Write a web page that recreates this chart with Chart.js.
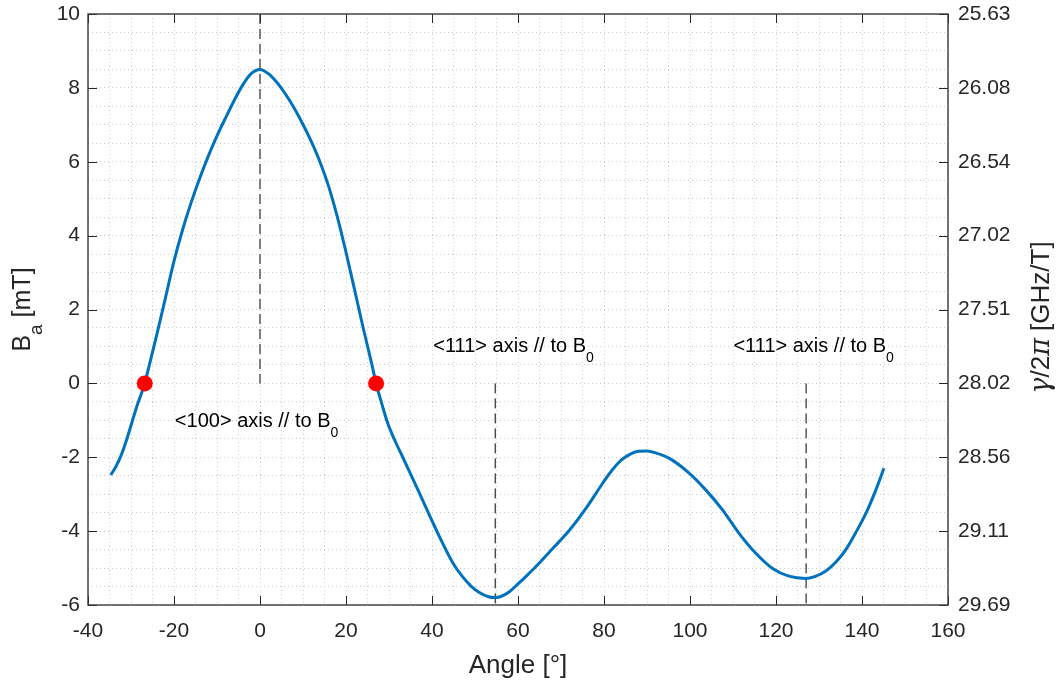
<!DOCTYPE html>
<html>
<head>
<meta charset="utf-8">
<script src="https://cdn.jsdelivr.net/npm/chart.js@4.4.0/dist/chart.umd.min.js"></script>
<style>
    html, body { margin: 0; padding: 0; background: #fff; }
</style>
</head>
<body>
<canvas id="field_chart" width="1058" height="684"></canvas>
<script>
    // curve: angle [deg] vs B_a [mT]
    var curve_angle = [-34.7, -33.5, -32.3, -31.0, -29.9, -28.4, -26.8, -26.0, -24.0, -22.0, -20.0, -18.0, -16.0,
        -14.0, -12.0, -10.0, -8.0, -6.0, -4.0, -2.0, 0.0, 2.0, 4.0, 6.0, 8.0, 10.0, 12.0, 14.0, 16.0, 18.0, 20.0,
        22.0, 24.0, 26.0, 27.0, 28.4, 29.7, 31.5, 33.2, 35.0, 37.1, 41.0, 45.0, 47.0, 49.0, 51.0, 53.0, 54.5,
        56.0, 58.0, 60.0, 62.0, 64.0, 68.0, 72.0, 76.0, 80.0, 82.0, 84.0, 86.0, 88.0, 90.0, 92.0, 95.2, 99.8,
        103.7, 107.6, 111.4, 115.3, 119.2, 123.0, 126.9, 129.0, 131.6, 134.0, 136.2, 138.5, 140.9, 143.0, 145.1];
    var curve_field = [-2.48, -2.25, -1.95, -1.52, -1.10, -0.54, 0, 0.37, 1.32, 2.31, 3.31, 4.16, 4.90,
        5.56, 6.16, 6.70, 7.19, 7.66, 8.08, 8.39, 8.50, 8.38, 8.14, 7.82, 7.44, 7.01, 6.53, 5.98, 5.32, 4.50, 3.55,
        2.53, 1.50, 0.52, 0, -0.58, -1.08, -1.58, -2.00, -2.45, -2.98, -3.97, -4.89, -5.22, -5.48, -5.66, -5.77, -5.80,
        -5.77, -5.64, -5.43, -5.21, -4.98, -4.48, -3.97, -3.35, -2.65, -2.33, -2.08, -1.92, -1.84, -1.83, -1.88, -2.03, -2.43,
        -2.89, -3.43, -4.06, -4.60, -5.01, -5.22, -5.28, -5.23, -5.08, -4.83, -4.51, -4.05, -3.52, -2.95, -2.30];

    // zero crossings (red dots)
    var zero_angle = [-26.8, 27.0];
    var zero_field = [0, 0];

    // crystal axis markers (dashed verticals)
    var marker_angle = [0, 54.7, 127.0];
    var marker_from = [10, 0, 0];
    var marker_to = [0, -6, -6];

    // annotations
    var note_text = ['<100> axis // to B', '<111> axis // to B', '<111> axis // to B'];
    var note_angle = [-19.8, 40.3, 110.1];
    var note_field = [-1.17, 0.84, 0.84];

    // ticks
    var x_ticks = [-40, -20, 0, 20, 40, 60, 80, 100, 120, 140, 160];
    var y_ticks = [-6, -4, -2, 0, 2, 4, 6, 8, 10];
    var gyro_labels = ['29.69', '29.11', '28.56', '28.02', '27.51', '27.02', '26.54', '26.08', '25.63'];

    var FONT = '"Liberation Sans", Arial, Helvetica, sans-serif';
    var TXT = '#262626';

    function pts(xs, ys) {
        return xs.map(function (x, i) { return { x: x, y: ys[i] }; });
    }

    var marker_sets = marker_angle.map(function (a, i) {
        return {
            data: [{ x: a, y: marker_from[i] }, { x: a, y: marker_to[i] }],
            borderColor: i === 0 ? '#6a6a6a' : '#000000',
            borderWidth: i === 0 ? 1.7 : 1,
            borderDash: [10, 5],
            pointRadius: 0,
            order: 3
        };
    });

    // draws a list of [text, font, dy] pieces one after the other
    function draw_pieces(ctx, pieces, x, y, align) {
        var total = 0;
        pieces.forEach(function (p) { ctx.font = p[1]; total += ctx.measureText(p[0]).width; });
        var cx = align === 'center' ? x - total / 2 : x;
        ctx.textAlign = 'left';
        pieces.forEach(function (p) {
            ctx.font = p[1];
            ctx.fillText(p[0], cx, y + p[2]);
            cx += ctx.measureText(p[0]).width;
        });
    }

    var decorations = {
        id: 'decorations',
        afterDraw: function (chart) {
            var ctx = chart.ctx;
            var area = chart.chartArea;
            var sx = chart.scales.x, sy = chart.scales.y;
            ctx.save();

            // inward tick marks, all four sides
            ctx.strokeStyle = TXT;
            ctx.lineWidth = 1;
            ctx.beginPath();
            x_ticks.forEach(function (v) {
                var px = Math.round(sx.getPixelForValue(v)) + 0.5;
                ctx.moveTo(px, area.bottom); ctx.lineTo(px, area.bottom - 9);
                ctx.moveTo(px, area.top); ctx.lineTo(px, area.top + 9);
            });
            y_ticks.forEach(function (v) {
                var py = Math.round(sy.getPixelForValue(v)) + 0.5;
                ctx.moveTo(area.left, py); ctx.lineTo(area.left + 9, py);
                ctx.moveTo(area.right, py); ctx.lineTo(area.right - 9, py);
            });
            ctx.stroke();

            // box
            ctx.strokeStyle = '#3a3a3a';
            ctx.lineWidth = 1.4;
            ctx.strokeRect(area.left, area.top, area.right - area.left, area.bottom - area.top);

            // annotations with subscript 0
            ctx.fillStyle = '#000';
            ctx.textBaseline = 'alphabetic';
            note_text.forEach(function (t, i) {
                var px = sx.getPixelForValue(note_angle[i]);
                var py = sy.getPixelForValue(note_field[i]);
                draw_pieces(ctx, [[t, '20px ' + FONT, 0], ['0', '14px ' + FONT, 10]], px, py, 'left');
            });

            // x title
            ctx.fillStyle = TXT;
            ctx.textAlign = 'center';
            ctx.font = '26px ' + FONT;
            ctx.fillText('Angle [°]', (area.left + area.right) / 2, 673);

            var cy = (area.top + area.bottom) / 2;

            // left y title: B_a [mT]
            ctx.save();
            ctx.translate(30, cy);
            ctx.rotate(-Math.PI / 2);
            draw_pieces(ctx, [['B', '25px ' + FONT, 0], ['a', '19px ' + FONT, 12], [' [mT]', '25px ' + FONT, 0]], 0, 0, 'center');
            ctx.restore();

            // right y title: gamma/2pi [GHz/T]
            ctx.save();
            ctx.translate(1049, cy + 8);
            ctx.rotate(-Math.PI / 2);
            draw_pieces(ctx, [
                ['\u03B3', 'italic 27px "DejaVu Serif", serif', 0],
                ['/2', '26px ' + FONT, 0],
                ['\u03C0', 'italic 27px "DejaVu Serif", serif', 0],
                [' [GHz/T]', '26px ' + FONT, 0]
            ], 0, 0, 'center');
            ctx.restore();

            ctx.restore();
        }
    };

    var field_chart = new Chart(document.getElementById('field_chart'), {
        type: 'line',
        data: {
            datasets: [
                {
                    data: pts(zero_angle, zero_field),
                    showLine: false,
                    pointRadius: 8,
                    pointBackgroundColor: '#ff0000',
                    pointBorderWidth: 0,
                    order: 1
                },
                {
                    data: pts(curve_angle, curve_field),
                    borderColor: '#0072BD',
                    borderWidth: 3,
                    pointRadius: 0,
                    cubicInterpolationMode: 'monotone',
                    order: 2
                }
            ].concat(marker_sets)
        },
        options: {
            responsive: false,
            animation: false,
            layout: { padding: { top: 14, left: 0, right: 0, bottom: 0 } },
            plugins: {
                legend: { display: false },
                tooltip: { enabled: false }
            },
            scales: {
                x: {
                    type: 'linear',
                    min: -40,
                    max: 160,
                    afterFit: function (s) { s.height = 79; s.paddingLeft = 0; s.paddingRight = 0; },
                    ticks: {
                        stepSize: 5,
                        autoSkip: false,
                        maxRotation: 0,
                        padding: 14,
                        color: TXT,
                        font: { family: FONT, size: 21 },
                        callback: function (v) { return v % 20 === 0 ? String(v) : ''; }
                    },
                    grid: { color: '#cccccc', lineWidth: 1, drawTicks: false },
                    border: { display: false, dash: [1, 3] }
                },
                y: {
                    type: 'linear',
                    position: 'left',
                    min: -6,
                    max: 10,
                    afterFit: function (s) { s.width = 88; s.paddingTop = 0; s.paddingBottom = 0; },
                    ticks: {
                        stepSize: 0.5,
                        autoSkip: false,
                        padding: 8,
                        color: TXT,
                        font: { family: FONT, size: 21 },
                        callback: function (v) { return (v % 2 === 0) ? String(v) : ''; }
                    },
                    grid: { color: '#cccccc', lineWidth: 1, drawTicks: false },
                    border: { display: false, dash: [1, 3] }
                },
                y2: {
                    type: 'linear',
                    position: 'right',
                    min: -6,
                    max: 10,
                    afterFit: function (s) { s.width = 110; s.paddingTop = 0; s.paddingBottom = 0; },
                    ticks: {
                        stepSize: 2,
                        autoSkip: false,
                        padding: 10,
                        color: TXT,
                        font: { family: FONT, size: 21 },
                        callback: function (v) { return gyro_labels[Math.round((v + 6) / 2)]; }
                    },
                    grid: { drawOnChartArea: false, drawTicks: false },
                    border: { display: false }
                }
            }
        },
        plugins: [decorations]
    });
</script>
</body>
</html>
